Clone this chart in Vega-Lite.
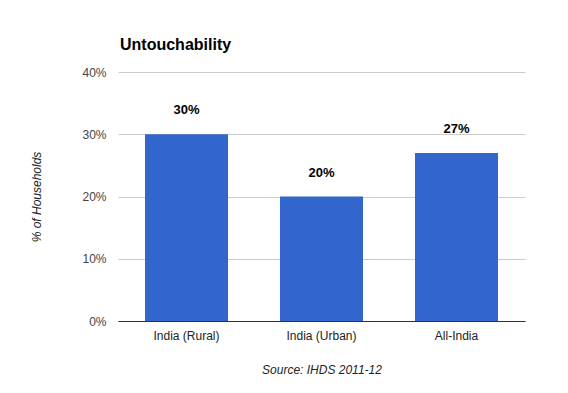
{
  "$schema": "https://vega.github.io/schema/vega-lite/v6.json",
  "autosize": "none",
  "width": 407,
  "height": 249,
  "padding": {"left": 118, "top": 72, "right": 43, "bottom": 72},
  "background": "white",
  "title": {
    "text": "Untouchability",
    "anchor": "start",
    "frame": "group",
    "font": "Liberation Sans",
    "fontSize": 16,
    "fontWeight": "bold",
    "color": "#000000",
    "offset": 13,
    "dx": 2
  },
  "config": {
    "view": {"stroke": null},
    "font": "Liberation Sans"
  },
  "data": {
    "values": [
      {"region": "India (Rural)", "share": 0.30},
      {"region": "India (Urban)", "share": 0.20},
      {"region": "All-India", "share": 0.27}
    ]
  },
  "encoding": {
    "x": {
      "field": "region",
      "type": "nominal",
      "sort": null,
      "scale": {"paddingInner": 0.385, "paddingOuter": 0.2},
      "axis": {
        "title": "Source: IHDS 2011-12",
        "titleFont": "Liberation Sans",
        "titleFontStyle": "italic",
        "titleFontWeight": "normal",
        "titleFontSize": 12,
        "titleColor": "#222222",
        "titlePadding": 23,
        "labelAngle": 0,
        "labelFont": "Liberation Sans",
        "labelFontSize": 12,
        "labelColor": "#222222",
        "labelPadding": 9,
        "ticks": false,
        "domainColor": "#333333",
        "domainWidth": 1
      }
    },
    "y": {
      "field": "share",
      "type": "quantitative",
      "scale": {"domain": [0, 0.4]},
      "axis": {
        "title": "% of Households",
        "titleFont": "Liberation Sans",
        "titleFontStyle": "italic",
        "titleFontWeight": "normal",
        "titleFontSize": 12,
        "titleColor": "#222222",
        "titlePadding": 38,
        "values": [0, 0.1, 0.2, 0.3, 0.4],
        "format": ".0%",
        "labelFont": "Liberation Sans",
        "labelFontSize": 12,
        "labelColor": "#444444",
        "labelPadding": 12,
        "ticks": false,
        "domain": false,
        "gridColor": "#cccccc",
        "gridWidth": 1
      }
    }
  },
  "layer": [
    {"mark": {"type": "bar", "color": "#3366cc"}},
    {
      "mark": {
        "type": "text",
        "dy": -24,
        "font": "Liberation Sans",
        "fontSize": 13,
        "fontWeight": "bold",
        "color": "#000000",
        "baseline": "middle"
      },
      "encoding": {"text": {"field": "share", "type": "quantitative", "format": ".0%"}}
    }
  ]
}
